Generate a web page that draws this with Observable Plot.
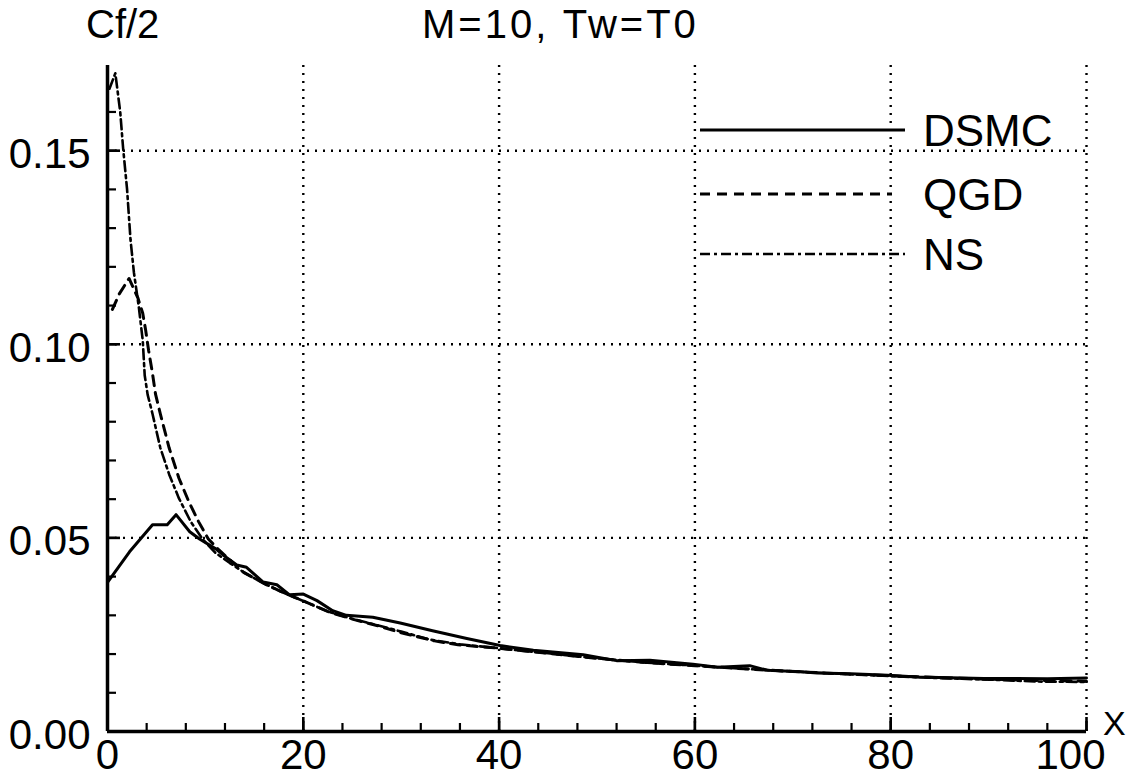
<!DOCTYPE html>
<html><head><meta charset="utf-8">
<script src="https://cdn.jsdelivr.net/npm/d3@7"></script>
<script src="https://cdn.jsdelivr.net/npm/@observablehq/plot@0.6"></script>
<style>
body{margin:0;background:#fff;}
#wrap{position:relative;width:1138px;height:782px;font-family:"Liberation Sans",Arial,sans-serif;color:#000;}
.lbl{position:absolute;white-space:nowrap;line-height:1;}
#legend{position:absolute;left:0;top:0;}
</style></head><body><div id="wrap"></div>
<script>
// DSMC (solid)
const dsmcX = [0,2.25,4.6,6.1,7.0,8.4,9.4,11.1,11.8,13.2,14.2,15.9,17.3,18.6,20,21.4,23,24.4,27.1,29.9,33.2,36.7,40.1,43.5,48.6,52,55.4,59.8,62.3,65.6,67.4,70.8,72.5,75.9,79.7,82.7,86.1,89.5,92.9,96,100];
const dsmcY = [0.0385,0.0464,0.0534,0.0534,0.056,0.0516,0.0497,0.0471,0.0456,0.043,0.0424,0.0386,0.0379,0.0353,0.0355,0.0338,0.0312,0.030,0.0295,0.0280,0.026,0.024,0.0222,0.021,0.0198,0.0183,0.0184,0.0174,0.0166,0.0170,0.0158,0.0154,0.0151,0.0149,0.0145,0.0141,0.0139,0.0137,0.0137,0.0136,0.0138];
// QGD (dashed)
const qgdX = [0.5,1.2,2.2,3.1,3.6,3.9,4.2,4.6,4.9,5.4,6.3,7.3,8.3,9.3,10.3,11.3,12.5,13.9,16.3,18.4,20.4,22.8,25.2,27.6,30,33.4,35.8,40,45,50,55,60,65,70,75,80,85,90,95,100];
const qgdY = [0.109,0.113,0.117,0.112,0.108,0.1036,0.0984,0.0924,0.0872,0.082,0.0732,0.0654,0.0594,0.0542,0.0497,0.0471,0.0443,0.0411,0.0378,0.0354,0.0333,0.0307,0.0289,0.0273,0.0255,0.0234,0.0224,0.0215,0.0202,0.0189,0.0178,0.0170,0.0162,0.0155,0.0149,0.0144,0.0139,0.0135,0.0132,0.0130];
// NS (dash-dot)
const nsX = [0.2,0.8,1.3,1.6,2.0,2.35,2.7,3.2,3.6,3.8,4.1,4.6,5.4,6.3,7.3,8.5,9.7,11,12.5,14,16,18,20,22.5,25,27.5,30,33,36,40,45,50,55,60,65,70,75,80,85,90,95,100];
const nsY = [0.166,0.170,0.160,0.1505,0.140,0.127,0.1185,0.1096,0.101,0.092,0.087,0.082,0.0732,0.0664,0.0602,0.0542,0.0497,0.0462,0.0435,0.041,0.0382,0.0358,0.0337,0.031,0.0291,0.0275,0.0258,0.0237,0.0225,0.0215,0.0202,0.0189,0.0178,0.0170,0.0162,0.0155,0.0149,0.0143,0.0138,0.0134,0.0129,0.0128];

const xTicks = [0,20,40,60,80,100];
const xMinor = d3.range(0,101,4);
const yTicks = [0,0.05,0.10,0.15];
const yMinor = d3.range(0,17).map(i=>i/100);
const xGrid = [20,40,60,80,100];
const yGrid = [0.05,0.10,0.15];

const seriesNames = ["DSMC","QGD","NS"];
const seriesDash = [null,"10,7","10,4,3,4"];
const title = "M=10, Tw=T0";
const yLabel = "Cf/2";
const xLabel = "X";

const toRows = (xs, ys, s) => xs.map((x,i)=>({x, y: ys[i], s}));
const dsmc = toRows(dsmcX, dsmcY, "DSMC");
const qgd = toRows(qgdX, qgdY, "QGD");
const ns = toRows(nsX, nsY, "NS");

const chart = Plot.plot({
  width: 1138, height: 782,
  marginLeft: 107, marginRight: 52, marginTop: 65, marginBottom: 51,
  style: {fontFamily: '"Liberation Sans", Arial, sans-serif', fontSize: "42px", background: "#fff", color: "#000"},
  x: {domain: [0,100], axis: null},
  y: {domain: [0,0.172], axis: null},
  marks: [
    Plot.ruleX(xGrid, {stroke: "#000", strokeWidth: 2.4, strokeDasharray: "2,6"}),
    Plot.ruleY(yGrid, {stroke: "#000", strokeWidth: 2.4, strokeDasharray: "2,6"}),
    // inward ticks drawn as rules from the axis baseline, extended by negative insets
    Plot.ruleX(xMinor, {x: d=>d, y1: 0, y2: 0, insetTop: -8, stroke: "#000", strokeWidth: 2.2}),
    Plot.ruleX(xTicks, {x: d=>d, y1: 0, y2: 0, insetTop: -14, stroke: "#000", strokeWidth: 2.6}),
    Plot.ruleY(yMinor, {y: d=>d, x1: 0, x2: 0, insetRight: -9, stroke: "#000", strokeWidth: 2.2}),
    Plot.ruleY(yTicks, {y: d=>d, x1: 0, x2: 0, insetRight: -13, stroke: "#000", strokeWidth: 2.6}),
    Plot.axisX({ticks: xTicks.slice(0, -1), tickSize: 0, tickPadding: 8, tickFormat: d=>String(d), label: null, fontSize: 42}),
    Plot.axisX({ticks: xTicks.slice(-1), tickSize: 0, tickPadding: 8, dx: -16, tickFormat: d=>String(d), label: null, fontSize: 42}),
    Plot.axisY({ticks: yTicks, tickSize: 0, tickPadding: 17, tickFormat: d3.format(".2f"), label: null, fontSize: 42, dy: 4}),
    Plot.ruleX([0], {stroke: "#000", strokeWidth: 3.5}),
    Plot.ruleY([0], {stroke: "#000", strokeWidth: 3.5}),
    Plot.line(dsmc, {x: "x", y: "y", stroke: "#000", strokeWidth: 3}),
    Plot.line(qgd, {x: "x", y: "y", stroke: "#000", strokeWidth: 3, strokeDasharray: seriesDash[1]}),
    Plot.line(ns, {x: "x", y: "y", stroke: "#000", strokeWidth: 2.6, strokeDasharray: seriesDash[2]})
  ]
});
const wrap = document.getElementById("wrap");
wrap.appendChild(chart);

function addLabel(text, left, top, size, extra) {
  const d = document.createElement("div");
  d.className = "lbl";
  d.textContent = text;
  d.style.left = left + "px";
  d.style.top = top + "px";
  d.style.fontSize = size + "px";
  if (extra) Object.assign(d.style, extra);
  wrap.appendChild(d);
}
addLabel(title, 422, 4, 40, {letterSpacing: "3px"});
addLabel(yLabel, 86, 4, 40);
addLabel(xLabel, 1103, 706, 34);

// legend overlay
const ns_ = "http://www.w3.org/2000/svg";
const lg = document.createElementNS(ns_, "svg");
lg.setAttribute("width", 1138); lg.setAttribute("height", 782);
lg.id = "legend";
const legendRowsY = [130, 194, 254];
seriesNames.forEach((name, i) => {
  const l = document.createElementNS(ns_, "line");
  l.setAttribute("x1", 700); l.setAttribute("x2", i===1 ? 892 : 905);
  l.setAttribute("y1", legendRowsY[i]); l.setAttribute("y2", legendRowsY[i]);
  l.setAttribute("stroke", "#000"); l.setAttribute("stroke-width", i===2 ? 2.6 : 3);
  if (seriesDash[i]) l.setAttribute("stroke-dasharray", seriesDash[i]);
  lg.appendChild(l);
  const t = document.createElementNS(ns_, "text");
  t.setAttribute("x", 923); t.setAttribute("y", legendRowsY[i] + 16);
  t.setAttribute("font-size", 44);
  t.setAttribute("font-family", '"Liberation Sans", Arial, sans-serif');
  t.textContent = name;
  lg.appendChild(t);
});
wrap.appendChild(lg);
</script></body></html>
